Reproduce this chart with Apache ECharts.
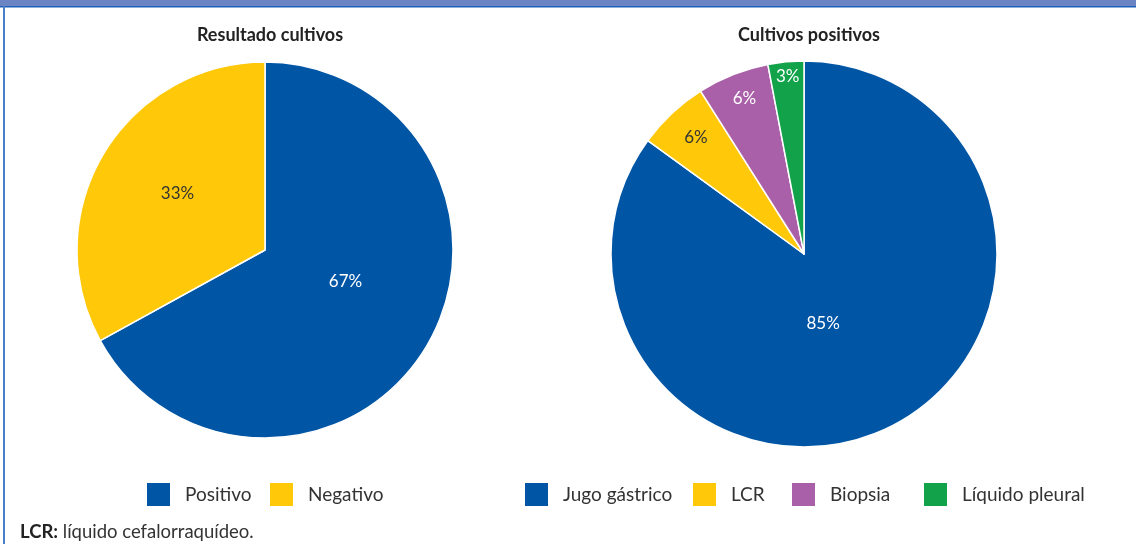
<!DOCTYPE html>
<html>
<head>
<meta charset="utf-8">
<script src="https://cdn.jsdelivr.net/npm/echarts@6/dist/echarts.min.js"></script>
<style>
  html, body { margin: 0; padding: 0; background: #fff; }
  #chart { width: 1136px; height: 544px; }
</style>
</head>
<body>
<div id="chart"></div>
<script>
// Resultado de los cultivos (%)
const resultadoNombres = ['Positivo', 'Negativo'];
const resultadoValores = [67, 33];

// Localización de los cultivos positivos (%)
const positivosNombres = ['Jugo gástrico', 'LCR', 'Biopsia', 'Líquido pleural'];
const positivosValores = [85, 6, 6, 3];

const colores = {
  'Positivo': '#0055a5',
  'Negativo': '#ffc90a',
  'Jugo gástrico': '#0055a5',
  'LCR': '#ffc90a',
  'Biopsia': '#a960a8',
  'Líquido pleural': '#11a24a'
};
const textoOscuro = '#333333';
const fuente = 'Lato, "Open Sans", sans-serif';

function datos(nombres, valores) {
  return nombres.map((n, i) => ({
    name: n,
    value: valores[i],
    itemStyle: { color: colores[n] },
    label: { color: colores[n] === '#ffc90a' ? textoOscuro : '#ffffff' }
  }));
}

// label nudges, px, per slice
const ajusteResultado = [[-3, -18], [-4, -7]];
const ajustePositivos = [[-26, -19], [-40, -44], [-23, -63], [-7, -78]];

// legend slot left edges, px
const leyendaIzq = {
  'Positivo': 147, 'Negativo': 270,
  'Jugo gástrico': 525, 'LCR': 693, 'Biopsia': 792, 'Líquido pleural': 924
};

const chart = echarts.init(document.getElementById('chart'), null, { renderer: 'canvas' });

const pieComun = {
  type: 'pie',
  startAngle: 90,
  clockwise: true,
  avoidLabelOverlap: false,
  silent: true,
  itemStyle: { borderColor: '#ffffff', borderWidth: 1.5 },
  label: {
    show: true,
    position: 'inside',
    formatter: '{c}%',
    fontFamily: fuente,
    fontSize: 17
  },
  labelLine: { show: false },
  emphasis: { disabled: true }
};

const leyendas = resultadoNombres.concat(positivosNombres).map(n => ({
  data: [n],
  left: leyendaIzq[n],
  top: 483,
  padding: 0,
  selectedMode: false,
  itemWidth: 23, itemHeight: 23,
  icon: 'rect',
  itemStyle: { borderWidth: 0 },
  textStyle: { fontFamily: fuente, fontSize: 19, color: '#333', padding: [0, 0, 0, 10] }
}));

chart.setOption({
  animation: false,
  backgroundColor: '#ffffff',
  title: [
    {
      text: 'Resultado cultivos',
      left: 265, top: 21, textAlign: 'center',
      textStyle: { fontFamily: fuente, fontSize: 18, fontWeight: 'bold', color: '#222' }
    },
    {
      text: 'Cultivos positivos',
      left: 804, top: 21, textAlign: 'center',
      textStyle: { fontFamily: fuente, fontSize: 18, fontWeight: 'bold', color: '#222' }
    }
  ],
  legend: leyendas,
  series: [
    Object.assign({}, pieComun, {
      name: 'Resultado cultivos',
      center: [265, 250],
      radius: [0, 188],
      data: datos(resultadoNombres, resultadoValores),
      labelLayout: p => ({ dx: ajusteResultado[p.dataIndex][0], dy: ajusteResultado[p.dataIndex][1] })
    }),
    Object.assign({}, pieComun, {
      name: 'Cultivos positivos',
      center: [804, 254],
      radius: [0, 193],
      data: datos(positivosNombres, positivosValores),
      labelLayout: p => ({ dx: ajustePositivos[p.dataIndex][0], dy: ajustePositivos[p.dataIndex][1] })
    })
  ],
  graphic: [
    // marco superior y lateral
    { type: 'rect', shape: { x: 0, y: 0, width: 1136, height: 6 }, style: { fill: '#6b84c4' }, silent: true },
    { type: 'rect', shape: { x: 0, y: 6, width: 1136, height: 1.5 }, style: { fill: '#1f5fb8' }, silent: true },
    { type: 'rect', shape: { x: 3, y: 6, width: 2, height: 538 }, style: { fill: '#4a80c8' }, silent: true },
    // nota al pie
    {
      type: 'text',
      left: 20, top: 523,
      style: {
        text: '{b|LCR:} líquido cefalorraquídeo.',
        fontFamily: fuente, fontSize: 18.5, fill: '#333',
        rich: { b: { fontFamily: fuente, fontSize: 18.5, fontWeight: 'bold', fill: '#222' } }
      }
    }
  ]
});
</script>
</body>
</html>
